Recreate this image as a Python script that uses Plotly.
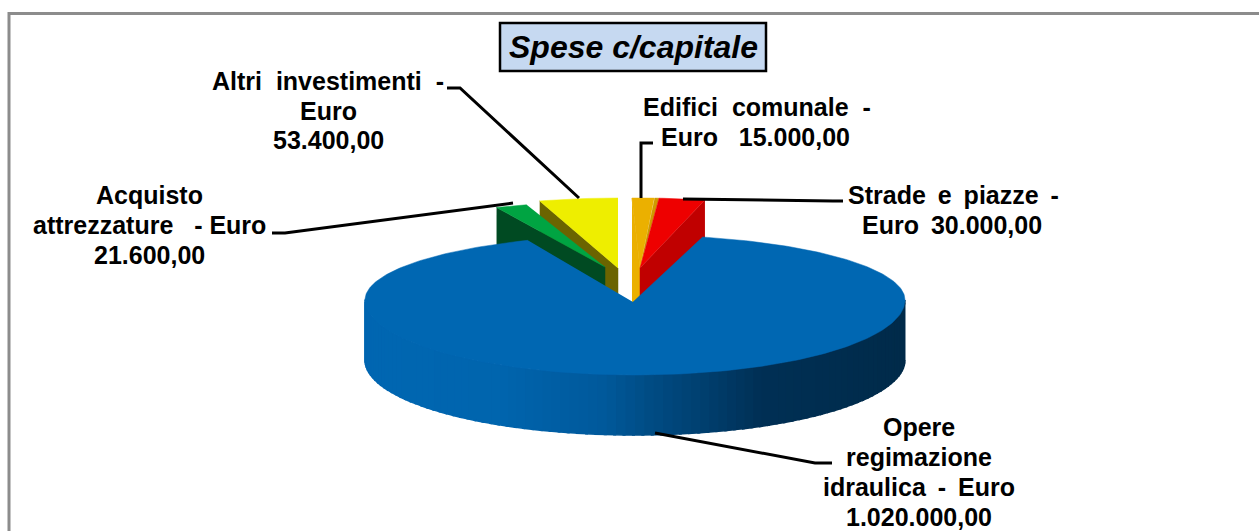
import numpy as np
import plotly.graph_objects as go

# ---- data ----
slice_names = ["Opere regimazione idraulica", "Altri investimenti", "Acquisto attrezzature",
               "Edifici comunale", "Strade e piazze"]
slice_values = [1020000, 53400, 21600, 15000, 30000]
blue_wall_stops = [365, 500, 600, 650, 700, 760, 905]
blue_wall_colors = ["#0067B2", "#0065AE", "#005A9C", "#004C84", "#004070", "#003055", "#002B4A"]

T = "\u2009"  # thin space, the reference's word gaps are wide
label_lines = [
    ("Altri\u00a0 investimenti\u00a0 -", 328, 81), ("Euro", 328, 111), ("53.400,00", 328, 140),
    ("Acquisto", 149, 195), ("attrezzature\u00a0\u00a0 - Euro", 149, 225), ("21.600,00", 149, 255),
    ("Edifici\u00a0 comunale\u00a0 -", 757, 107), ("Euro\u00a0\u00a0 15.000,00", 755, 137),
    (f"Strade {T}e {T}piazze {T}-", 953, 195), (f"Euro {T}30.000,00", 952, 225),
    ("Opere", 919, 427), ("regimazione", 919, 457), (f"idraulica {T}- {T}Euro", 919, 487),
    ("1.020.000,00", 919, 517),
]
leaders = [
    [(447, 88), (460, 88), (579, 198)],
    [(272, 233), (285, 233), (513, 203)],
    [(653, 143), (641, 143), (641, 198)],
    [(843, 201), (833, 201), (683, 199)],
    [(655, 433), (815, 463), (832, 463)],
]
# ---- drawing ----
total = sum(slice_values)
sweep = [v / total * 360 for v in slice_values]
CX, CY, RX, RY_BACK, RY_FRONT, DEPTH = 635, 300, 270, 65, 75, 60


def arc(cx, cy, rx, ry_back, ry_front, t0, t1, n=80):
    t = np.radians(np.linspace(t0, t1, n))
    ry = np.where(np.cos(t) > 0, ry_back, ry_front)
    return cx + rx * np.sin(t), cy - ry * np.cos(t)


fig = go.Figure()


def poly(x, y, color, lw=0.5):
    fig.add_trace(go.Scatter(x=list(x), y=list(y), mode="lines", fill="toself", fillcolor=color,
                             line=dict(color=color, width=lw), hoverinfo="skip", showlegend=False))


def wedge(ax, ay, ry, t0, t1, top, wall=None, wall_at=None, depth=DEPTH):
    px, py = arc(ax, ay, RX, ry, ry, t0, t1, 12)
    if wall is not None:
        i = 0 if wall_at == "start" else -1
        poly([px[i], ax, ax, px[i]], [py[i], ay, ay + depth, py[i] + depth], wall)
    poly(np.r_[ax, px], np.r_[ay, py], top)


# small slices (painter's order), the large one is drawn over them
yel_start = -sweep[1]
grn_start = yel_start - sweep[2]
org_start = -1.7
org_end = org_start + sweep[3]
red_start = org_end + 1.0
wedge(618, 268, 70, yel_start, 0, "#EEEE00", "#6B6400", "start", 60)
wedge(605, 267, 65, grn_start, yel_start, "#00A442", "#004A22", "start", 60)
wedge(640, 268, 70, org_end, red_start, "#CF9A00")
wedge(640, 268, 70, org_start, org_end, "#EBB000", "#EBB000", "start", 105)
wedge(640, 268, 70, red_start, red_start + sweep[4] + 0.4, "#EE0000", "#C00000", "end", 60)

# front wall of the large slice with a horizontal shading
edges = np.linspace(90, 270, 91)
rgb = np.array([[int(c[i:i + 2], 16) for i in (1, 3, 5)] for c in blue_wall_colors], float)
for a, b in zip(edges[:-1], edges[1:]):
    ax_, ay_ = arc(CX, CY, RX, RY_BACK, RY_FRONT, a, b + 0.5, 4)
    xm = ax_.mean()
    col = [np.interp(xm, blue_wall_stops, rgb[:, k]) for k in range(3)]
    poly(np.r_[ax_, ax_[::-1]], np.r_[ay_, ay_[::-1] + DEPTH],
         "rgb(%d,%d,%d)" % tuple(col), lw=1.5)

# top surface of the large slice
START = 14.5
bx, by = arc(CX, CY, RX, RY_BACK, RY_FRONT, START, START + sweep[0], 300)
poly(np.r_[CX - 2, bx], np.r_[CY + 2, by], "#0067B2")

shapes = [
    dict(type="path", path="M 9 531 L 9 13.5 L 1259 13.5", line=dict(color="#8C8C8C", width=3),
         xref="x", yref="y", layer="above"),
    dict(type="rect", x0=500, x1=766, y0=23, y1=71, xref="x", yref="y",
         fillcolor="#C6D9F1", line=dict(color="#000000", width=2.5), layer="above"),
]
for pts in leaders:
    path = "M " + " L ".join(f"{x} {y}" for x, y in pts)
    shapes.append(dict(type="path", path=path, xref="x", yref="y", layer="above",
                       line=dict(color="#000000", width=3)))

annotations = [
    dict(x=633, y=47, xref="x", yref="y", text="<b><i>Spese c/capitale</i></b>", showarrow=False,
         xanchor="center", yanchor="middle",
         font=dict(family="Liberation Sans, Arial, sans-serif", size=32, color="#000000"))
]
for txt, x, y in label_lines:
    annotations.append(dict(x=x, y=y, xref="x", yref="y", text=f"<b>{txt}</b>", showarrow=False,
                            xanchor="center", yanchor="middle",
                            font=dict(family="Liberation Sans, Arial, sans-serif", size=25,
                                      color="#000000")))

fig.update_layout(
    width=1259, height=531, margin=dict(l=0, r=0, t=0, b=0),
    paper_bgcolor="#FFFFFF", plot_bgcolor="#FFFFFF", showlegend=False,
    xaxis=dict(range=[0, 1259], visible=False, fixedrange=True),
    yaxis=dict(range=[531, 0], visible=False, fixedrange=True),
    shapes=shapes, annotations=annotations,
)
fig.write_html("out.html", config={"displayModeBar": False},
               post_script="document.body.style.margin='0';document.documentElement.style.overflow='hidden';")
